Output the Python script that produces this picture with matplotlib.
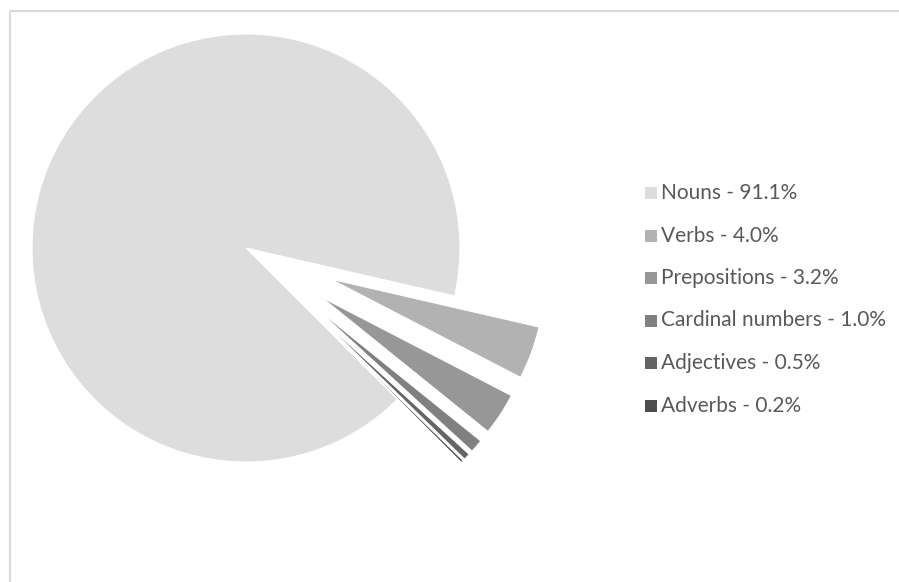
import matplotlib
matplotlib.use("Agg")
import matplotlib.pyplot as plt
from matplotlib.patches import Rectangle

# Part-of-speech shares (percent)
categories = ["Nouns", "Verbs", "Prepositions", "Cardinal numbers", "Adjectives", "Adverbs"]
shares = [91.1, 4.0, 3.2, 1.0, 0.5, 0.2]
colors = ["#dddddd", "#b2b2b2", "#979797", "#808080", "#646464", "#4d4d4d"]
explode_px = [0, 90, 90, 90, 90, 90]

W, H = 899, 582
fig = plt.figure(figsize=(W / 100, H / 100), dpi=100)
ax = fig.add_axes([0, 0, 1, 1])

# pixel-based data coordinates (y measured upward)
cx, cy, r = 246, H - 248, 214
ax.pie(shares, colors=colors, explode=explode_px, radius=r, center=(cx, cy),
       startangle=-45, counterclock=False,
       wedgeprops=dict(edgecolor="white", linewidth=0.8))
ax.set_xlim(0, W)
ax.set_ylim(0, H)
ax.set_aspect("auto")
ax.axis("off")

# chart-area border (top and left edges visible)
ax.plot([9.5, W], [H - 10.5, H - 10.5], color="#d9d9d9", lw=1.6, solid_capstyle="butt")
ax.plot([9.5, 9.5], [0, H - 10.5], color="#d9d9d9", lw=1.6, solid_capstyle="butt")

# legend
row0, step = H - 193, 42.5
for i, (name, val, col) in enumerate(zip(categories, shares, colors)):
    y = row0 - i * step
    ax.add_patch(Rectangle((645, y - 6), 12, 12, facecolor=col, edgecolor="none"))
    ax.text(661, y, f"{name} - {val:.1f}%", fontsize=15, family="Lato",
            color="#595959", va="center", ha="left")

fig.savefig("out.png", dpi=100)
